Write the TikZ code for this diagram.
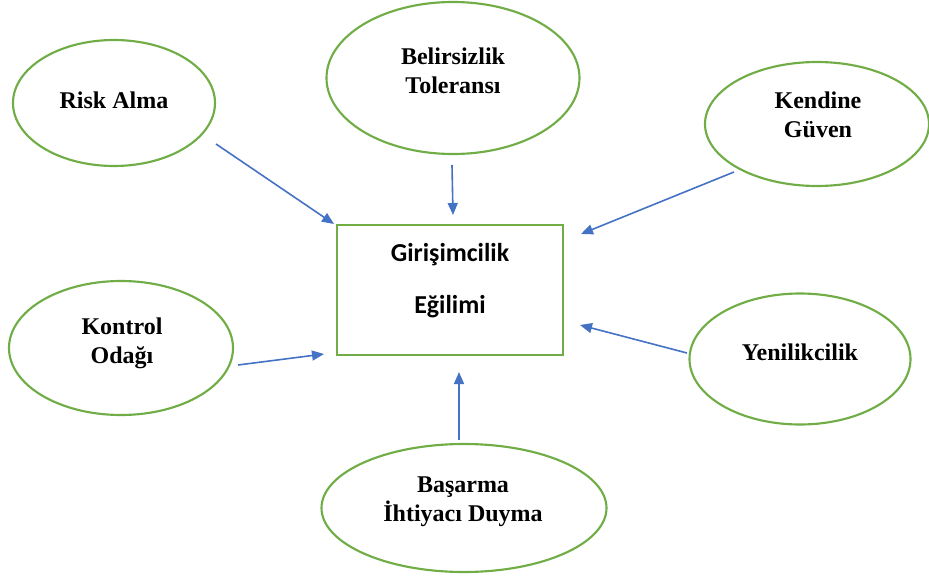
\documentclass[tikz,border=0pt]{standalone}
\usepackage{fontspec}
\setmainfont{Liberation Serif}
\newfontfamily\boxfont{Carlito}
\usetikzlibrary{shapes.geometric,arrows.meta}
\definecolor{ellgreen}{HTML}{70AD47}
\definecolor{arrblue}{HTML}{4472C4}
\tikzset{
  oval/.style={draw=ellgreen, line width=1.6pt, ellipse, inner sep=0pt},
  ovaltext/.style={font=\fontsize{18}{22}\selectfont\bfseries, align=center, inner sep=0pt},
  mainbox/.style={draw=ellgreen, line width=1.5pt, inner sep=0pt},
  boxtext/.style={font=\boxfont\fontsize{19.4}{39}\selectfont\bfseries, align=center, inner sep=0pt},
  arr/.style={draw=arrblue, line width=1.2pt, -{Triangle[length=9pt,width=7.5pt]}}
}
\begin{document}
\begin{tikzpicture}[x=0.75pt,y=-0.75pt]
\useasboundingbox (0,0) rectangle (929,578);
% center box
\node[mainbox, minimum width=226*0.75pt, minimum height=130*0.75pt] (box) at (450,290) {};
\node[boxtext] (boxt) at (450,281) {Girişimcilik\\Eğilimi};
% ellipses
\node[oval, minimum width=202*0.75pt, minimum height=126*0.75pt] (risk) at (114,103) {};
\node[ovaltext] (riskt) at (114,100) {Risk Alma};
\node[oval, minimum width=253*0.75pt, minimum height=152*0.75pt] (bel) at (453,78) {};
\node[ovaltext] (belt) at (453,71) {Belirsizlik\\Toleransı};
\node[oval, minimum width=224*0.75pt, minimum height=124*0.75pt] (ken) at (817,124) {};
\node[ovaltext] (kent) at (818,115) {Kendine\\Güven};
\node[oval, minimum width=224*0.75pt, minimum height=134*0.75pt] (kon) at (121,348) {};
\node[ovaltext] (kont) at (122,343) {Kontrol\\Odağı};
\node[oval, minimum width=221*0.75pt, minimum height=131*0.75pt] (yen) at (800,359) {};
\node[ovaltext] (yent) at (800,352) {Yenilikcilik};
\node[oval, minimum width=285*0.75pt, minimum height=128*0.75pt] (bas) at (464,508) {};
\node[ovaltext] (bast) at (463,502) {Başarma\\İhtiyacı Duyma};
% arrow end points
\coordinate (riskA) at (216,144);  \coordinate (riskB) at (334,224);
\coordinate (belA) at (452,165);   \coordinate (belB) at (453,215);
\coordinate (kenA) at (734,172);   \coordinate (kenB) at (581,234);
\coordinate (konA) at (238,365);   \coordinate (konB) at (324,354);
\coordinate (yenA) at (687,353);   \coordinate (yenB) at (580,325);
\coordinate (basA) at (459,440);   \coordinate (basB) at (459,372);
\draw[arr] (riskA) -- (riskB);
\draw[arr] (belA) -- (belB);
\draw[arr] (kenA) -- (kenB);
\draw[arr] (konA) -- (konB);
\draw[arr] (yenA) -- (yenB);
\draw[arr] (basA) -- (basB);
\end{tikzpicture}
\end{document}
